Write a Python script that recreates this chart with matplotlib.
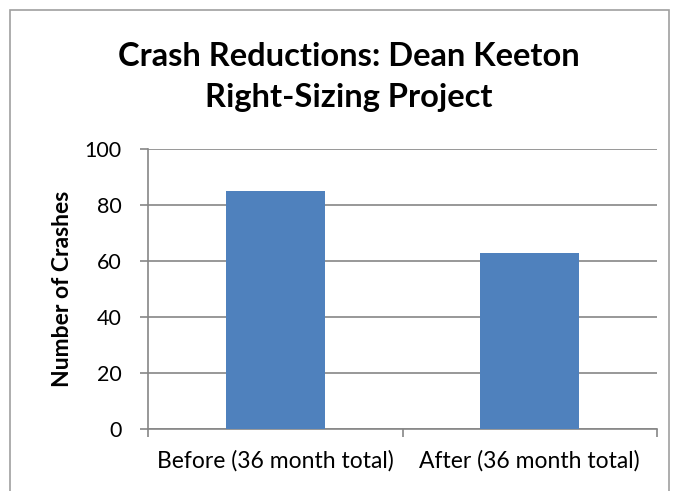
import matplotlib.pyplot as plt
from matplotlib.patches import Rectangle

# data
categories = ['Before (36 month total)', 'After (36 month total)']
crashes = [85, 63]
yticks = [0, 20, 40, 60, 80, 100]

plt.rcParams['font.family'] = ['Lato', 'DejaVu Sans']

W, H = 673, 491
fig = plt.figure(figsize=(W / 100, H / 100), dpi=100)
ax = fig.add_axes([148 / W, 1 - 429 / H, (657 - 148) / W, (429 - 149) / H])

grey = '#868686'
x = range(len(categories))
ax.bar(x, crashes, width=0.39, color='#4F81BD', zorder=3)

ax.set_xlim(-0.5, 1.5)
ax.set_ylim(0, 100)
ax.set_yticks(yticks)
ax.yaxis.grid(True, color=grey, linewidth=1.2, zorder=0)

# x ticks at category borders, labels centred below the bars
ax.set_xticks([-0.5, 0.5, 1.5])
ax.set_xticklabels([])
ax.set_xticks(list(x), minor=True)
ax.set_xticklabels(categories, minor=True, fontsize=16.5)
ax.tick_params(axis='x', which='minor', length=0, pad=15)
ax.tick_params(axis='x', which='major', length=6, color=grey, width=1.2)
ax.tick_params(axis='y', length=6, color=grey, width=1.2, labelsize=15.5, pad=13)

for s in ['top', 'right']:
    ax.spines[s].set_visible(False)
for s in ['left', 'bottom']:
    ax.spines[s].set_color(grey)
    ax.spines[s].set_linewidth(1.2)

ax.set_ylabel('Number of Crashes', fontsize=16.5, fontweight='bold', labelpad=8)

fig.text(349 / W, 1 - 77 / H, 'Crash Reductions: Dean Keeton\nRight-Sizing Project',
         ha='center', va='center', fontsize=23.5, fontweight='bold', linespacing=1.5)

# outer chart frame
fig.patches.append(Rectangle((10 / W, -0.05), (669 - 10) / W, 1 - 10 / H + 0.05,
                             transform=fig.transFigure, fill=False,
                             edgecolor='#A0A0A0', linewidth=1.2))

fig.savefig('out.png', dpi=100)
